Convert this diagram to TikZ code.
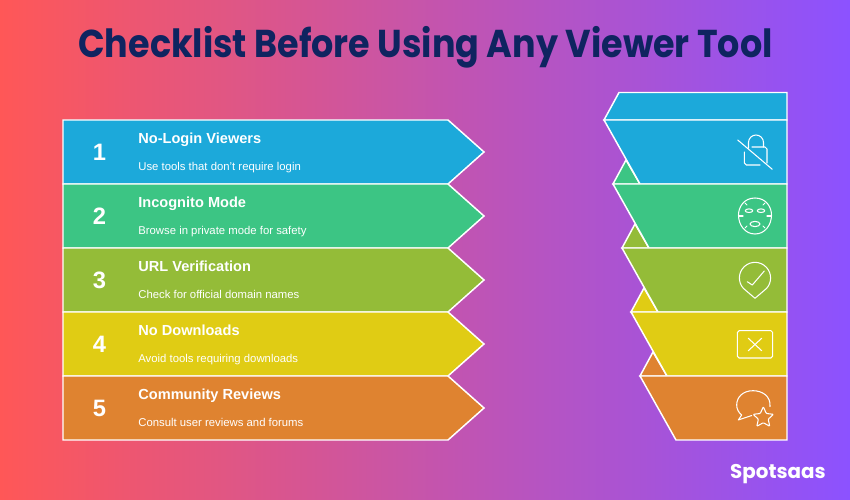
\documentclass[tikz,border=0pt]{standalone}
\usepackage{fontspec}
\setmainfont{Liberation Sans}
\newfontfamily\titlefont[FakeStretch=0.9]{Poppins}
\newfontfamily\logofont{Poppins}
\definecolor{rowblue}{HTML}{1CA9DA}
\definecolor{rowgreen}{HTML}{3CC584}
\definecolor{rowolive}{HTML}{94BC38}
\definecolor{rowyellow}{HTML}{E0CC14}
\definecolor{roworange}{HTML}{DF8330}
\definecolor{titlenavy}{HTML}{0F2460}
\definecolor{bgred}{HTML}{FF5757}
\definecolor{bgpurple}{HTML}{8C52FF}
\tikzset{band/.style={draw=white, line width=0.85pt, line join=miter, fill=#1}}
\tikzset{icon/.style={draw=white, line width=0.6pt, line cap=round, line join=round}}
\tikzset{rownum/.style={text=white, font=\fontsize{13.5}{16}\selectfont\bfseries}}
\tikzset{rowhead/.style={text=white, anchor=base west, inner sep=0pt, font=\fontsize{8.3}{10}\selectfont\bfseries}}
\tikzset{rowtext/.style={text=white, anchor=base west, inner sep=0pt, font=\fontsize{6.45}{8}\selectfont}}
\begin{document}
\begin{tikzpicture}[x=0.02cm,y=-0.02cm]
    \useasboundingbox (0,0) rectangle (850,500);
    \shade[left color=bgred, right color=bgpurple] (0,0) rectangle (850,500);
    \node (title) at (425.5,47) {\titlefont\fontsize{22.1}{26}\selectfont\bfseries\textcolor{titlenavy}{Checklist Before Using Any Viewer Tool}};
    % left arrows
    \draw [band=rowblue] (63,120) -- (448,120) -- (484,152) -- (448,184) -- (63,184) -- cycle;
    \draw [band=rowgreen] (63,184) -- (448,184) -- (484,216) -- (448,248) -- (63,248) -- cycle;
    \draw [band=rowolive] (63,248) -- (448,248) -- (484,280) -- (448,312) -- (63,312) -- cycle;
    \draw [band=rowyellow] (63,312) -- (448,312) -- (484,344) -- (448,376) -- (63,376) -- cycle;
    \draw [band=roworange] (63,376) -- (448,376) -- (484,408) -- (448,440) -- (63,440) -- cycle;
    \node [rownum] (num1) at (99.5,152) {1};
    \node [rownum] (num2) at (99.5,216) {2};
    \node [rownum] (num3) at (99.5,280) {3};
    \node [rownum] (num4) at (99.5,344) {4};
    \node [rownum] (num5) at (99.5,408) {5};
    \node [rowhead] (head1) at (138,143.7) {No-Login Viewers};
    \node [rowhead] (head2) at (138,207.7) {Incognito Mode};
    \node [rowhead] (head3) at (138,271.7) {URL Verification};
    \node [rowhead] (head4) at (138,335.7) {No Downloads};
    \node [rowhead] (head5) at (138,399.7) {Community Reviews};
    \node [rowtext] (text1) at (138,170.5) {Use tools that don't require login};
    \node [rowtext] (text2) at (138,234.5) {Browse in private mode for safety};
    \node [rowtext] (text3) at (138,298.5) {Check for official domain names};
    \node [rowtext] (text4) at (138,362.5) {Avoid tools requiring downloads};
    \node [rowtext] (text5) at (138,426.5) {Consult user reviews and forums};
    % right stack
    \draw [band=rowgreen] (613,184) -- (626,160) -- (640,184) -- cycle;
    \draw [band=rowolive] (622,248) -- (635,224) -- (649,248) -- cycle;
    \draw [band=rowyellow] (631,312) -- (644,288) -- (658,312) -- cycle;
    \draw [band=roworange] (640,376) -- (653,352) -- (667,376) -- cycle;
    \draw [band=rowblue] (604,120) -- (619,92.5) -- (787,92.5) -- (787,120) -- cycle;
    \draw [band=rowblue] (604,120) -- (787,120) -- (787,184) -- (640,184) -- cycle;
    \draw [band=rowgreen] (613,184) -- (787,184) -- (787,248) -- (649,248) -- cycle;
    \draw [band=rowolive] (622,248) -- (787,248) -- (787,312) -- (658,312) -- cycle;
    \draw [band=rowyellow] (631,312) -- (787,312) -- (787,376) -- (667,376) -- cycle;
    \draw [band=roworange] (640,376) -- (787,376) -- (787,440) -- (676,440) -- cycle;
    % lock
    \draw [icon] (737.7,140) -- (772.3,169.3);
    \draw [icon] (748.5,148) -- (748.5,142.5) arc (180:360:7.5) -- (763.5,147);
    \draw [icon] (752,147) -- (765,147) -- (767,149) -- (767,163);
    \draw [icon] (744.3,152) -- (744.3,163) -- (746.3,165) -- (760,165);
    % face
    \draw [icon] (755,198) .. controls (766,198) and (771.5,207) .. (771.5,215) .. controls (771.5,225) and (765,234) .. (755,234) .. controls (745,234) and (738.5,225) .. (738.5,215) .. controls (738.5,207) and (744,198) .. (755,198) -- cycle;
    \draw [icon] (749,210.7) ellipse (3.8 and 1.8);
    \draw [icon] (761,210.7) ellipse (3.8 and 1.8);
    \draw [icon] (755,224) ellipse (5 and 2.6);
    \draw [icon] (738.5,216) -- (743,216);
    \draw [icon] (771.5,216) -- (767,216);
    \draw [icon] (745,203) -- (747,205);
    \draw [icon] (765,203) -- (763,205);
    \draw [icon] (745,228) -- (747,226);
    \draw [icon] (765,228) -- (763,226);
    % pin
    \draw [icon] (755,298.3) -- (743.4,288.4) arc (138:402:15.6) -- cycle;
    \draw [icon] (747.3,281.7) -- (752.3,285) -- (764.3,271);
    % box
    \draw [icon, rounded corners=1pt] (737.3,330.7) rectangle (772.7,358);
    \draw [icon] (748.3,338.3) -- (761.7,350.7);
    \draw [icon] (761.7,338.3) -- (748.3,350.7);
    % bubble
    \draw [icon] (770,406.7) .. controls (771,396) and (762,390.7) .. (753,390.7) .. controls (743,390.7) and (736.7,397) .. (736.7,405) .. controls (736.7,409) and (738.5,412.5) .. (741.7,415) -- (738.3,420) -- (751.7,415.5);
    % star
    \draw [icon, rounded corners=0.5pt] (763.3,406.7) -- (766.3,413.5) -- (773.5,414.3) -- (768.2,419.2) -- (769.8,426.3) -- (763.3,422.7) -- (756.8,426.3) -- (758.4,419.2) -- (753.1,414.3) -- (760.3,413.5) -- cycle;
    \node (logo) at (778,474) {\logofont\fontsize{11.3}{14}\selectfont\bfseries\textcolor{white}{Spotsaas}};
\end{tikzpicture}
\end{document}
